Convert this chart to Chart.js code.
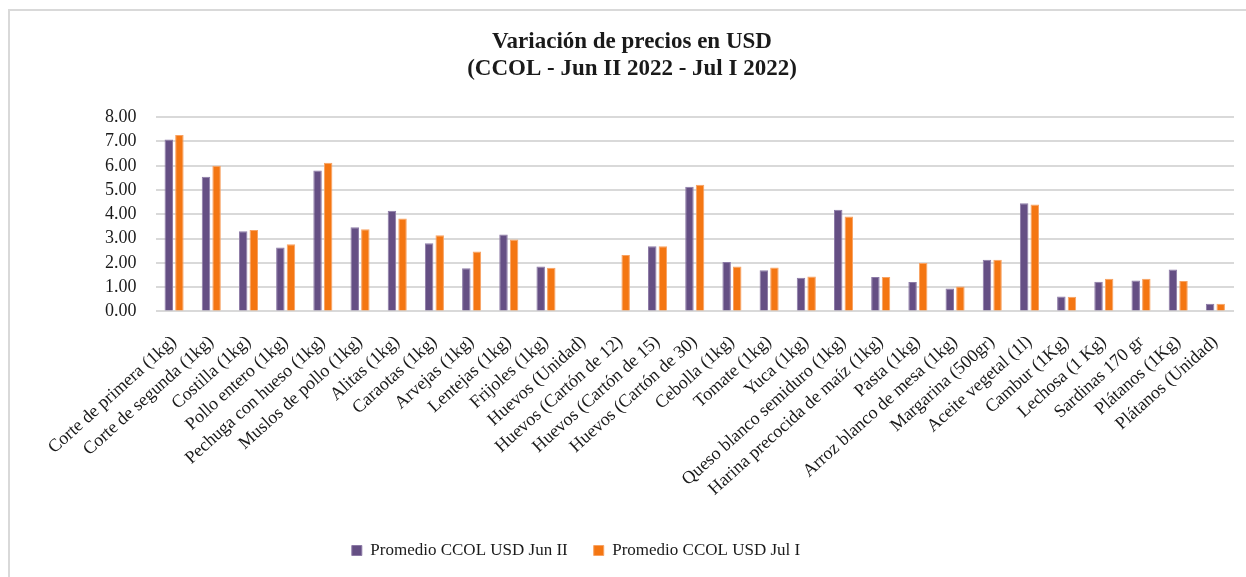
<!DOCTYPE html>
<html>
<head>
<meta charset="utf-8">
<script src="https://cdn.jsdelivr.net/npm/chart.js@4.4.1/dist/chart.umd.min.js"></script>
<style>
  body { margin: 0; background: #fff; }
  #wrap { position: relative; width: 1246px; height: 577px; overflow: hidden; }
  #frame { position: absolute; left: 8px; top: 9px; width: 1300px; height: 700px;
           border-top: 2px solid #d9d9d9; border-left: 2px solid #d9d9d9; }
  #chart { position: absolute; left: 0; top: 0; }
</style>
</head>
<body>
<div id="wrap">
  <div id="frame"></div>
  <canvas id="chart" width="1246" height="577"></canvas>
</div>
<script>
// product names along the x axis
var productos = [
  'Corte de primera (1kg)', 'Corte de segunda (1kg)', 'Costilla (1kg)', 'Pollo entero (1kg)',
  'Pechuga con hueso (1kg)', 'Muslos de pollo (1kg)', 'Alitas (1kg)', 'Caraotas (1kg)',
  'Arvejas (1kg)', 'Lentejas (1kg)', 'Frijoles (1kg)', 'Huevos (Unidad)',
  'Huevos (Cartón de 12)', 'Huevos (Cartón de 15)', 'Huevos (Cartón de 30)', 'Cebolla (1kg)',
  'Tomate (1kg)', 'Yuca (1kg)', 'Queso blanco semiduro (1kg)', 'Harina precocida de maíz (1kg)',
  'Pasta (1kg)', 'Arroz blanco de mesa (1kg)', 'Margarina (500gr)', 'Aceite vegetal (1l)',
  'Cambur (1Kg)', 'Lechosa (1 Kg)', 'Sardinas 170 gr', 'Plátanos (1Kg)', 'Plátanos (Unidad)'
];

// Promedio CCOL USD Jun II
var precioJunII = [
  7.08, 5.55, 3.30, 2.63, 5.80, 3.47, 4.15, 2.81,
  1.78, 3.17, 1.85, null, null, 2.69, 5.14, 2.04,
  1.70, 1.39, 4.19, 1.42, 1.21, 0.95, 2.13, 4.46,
  0.62, 1.22, 1.28, 1.73, 0.32
];

// Promedio CCOL USD Jul I
var precioJulI = [
  7.27, 6.00, 3.35, 2.77, 6.12, 3.39, 3.83, 3.14,
  2.47, 2.96, 1.80, null, 2.33, 2.69, 5.22, 1.85,
  1.81, 1.44, 3.91, 1.42, 2.00, 1.03, 2.13, 4.40,
  0.61, 1.35, 1.35, 1.25, 0.32
];

var yTicks = [0, 1, 2, 3, 4, 5, 6, 7, 8];

var serif = "'Liberation Serif', 'DejaVu Serif', serif";

// Excel puts the title and legend a bit left of centre; nudge them
var boxShift = {
  id: 'boxShift',
  afterLayout: function (chart) {
    chart.legend.left -= 84;
    chart.legend.right -= 84;
    chart.titleBlock.left -= 28;
    chart.titleBlock.right -= 28;
  }
};

var ctx = document.getElementById('chart').getContext('2d');
var chart = new Chart(ctx, {
  type: 'bar',
  data: {
    labels: productos,
    datasets: [
      {
        label: 'Promedio CCOL USD Jun II',
        data: precioJunII,
        backgroundColor: '#654f84',
        borderColor: '#8c7aa6',
        borderWidth: 1,
        categoryPercentage: 0.57,
        barPercentage: 0.8
      },
      {
        label: 'Promedio CCOL USD Jul I',
        data: precioJulI,
        backgroundColor: '#f47612',
        borderColor: '#f8a262',
        borderWidth: 1,
        categoryPercentage: 0.57,
        barPercentage: 0.8
      }
    ]
  },
  plugins: [boxShift],
  options: {
    responsive: false,
    animation: false,
    layout: { padding: { left: 86, right: 12, top: 28, bottom: 8 } },
    plugins: {
      title: {
        display: true,
        text: ['Variación de precios en USD', '(CCOL - Jun II 2022 - Jul I 2022)'],
        color: '#1a1a1a',
        font: { family: serif, size: 23, weight: 'bold', lineHeight: 1.2 },
        padding: { top: 0, bottom: 34 }
      },
      legend: {
        position: 'bottom',
        labels: {
          color: '#1a1a1a',
          font: { family: serif, size: 17 },
          boxWidth: 10,
          boxHeight: 10,
          padding: 26
        }
      },
      tooltip: { enabled: false }
    },
    scales: {
      x: {
        grid: { display: false },
        border: { display: false },
        afterFit: function (axis) { axis.height += 4; },
        ticks: {
          color: '#1a1a1a',
          font: { family: serif, size: 18 },
          minRotation: 42,
          maxRotation: 42,
          autoSkip: false,
          padding: 12
        }
      },
      y: {
        min: 0,
        max: 8,
        afterBuildTicks: function (axis) {
          axis.ticks = yTicks.map(function (v) { return { value: v }; });
        },
        grid: { color: '#d9d9d9', lineWidth: 2, drawTicks: false },
        border: { display: false },
        ticks: {
          color: '#1a1a1a',
          font: { family: serif, size: 18 },
          autoSkip: false,
          padding: 19,
          callback: function (v) { return Number(v).toFixed(2); }
        }
      }
    }
  }
});
</script>
</body>
</html>
